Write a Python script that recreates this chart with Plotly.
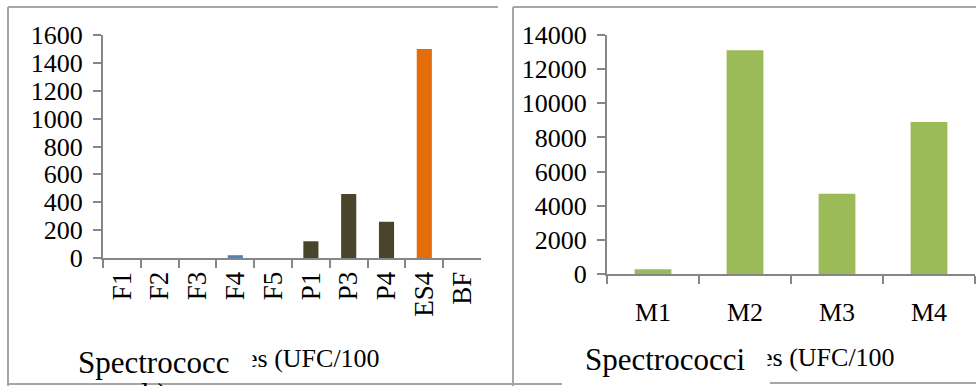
import plotly.graph_objects as go

# ---- data ----
left_categories = ["F1", "F2", "F3", "F4", "F5", "P1", "P3", "P4", "ES4", "BF"]
left_values = [0, 0, 0, 20, 0, 120, 460, 260, 1500, 0]
left_colors = ["#4F81BD", "#4F81BD", "#4F81BD", "#4F81BD", "#4A452A",
               "#4A452A", "#4A452A", "#4A452A", "#E46C0A", "#E46C0A"]
left_ticks = [0, 200, 400, 600, 800, 1000, 1200, 1400, 1600]

right_categories = ["M1", "M2", "M3", "M4"]
right_values = [280, 13100, 4700, 8900]
right_color = "#9BBB59"
right_ticks = [0, 2000, 4000, 6000, 8000, 10000, 12000, 14000]

W, H = 976, 386
FONT = "Liberation Serif, Times New Roman, serif"
AXC = "#868686"
BORDER = "#A6A6A6"


def px(x):
    return x / W


def py(y):
    return 1 - y / H


fig = go.Figure()
fig.add_trace(go.Bar(x=left_categories, y=left_values, marker=dict(color=left_colors, line=dict(width=0)),
                     xaxis="x", yaxis="y", width=0.4, showlegend=False))
fig.add_trace(go.Bar(x=right_categories, y=right_values, marker=dict(color=right_color, line=dict(width=0)),
                     xaxis="x2", yaxis="y2", width=0.4, showlegend=False))

axis_common = dict(showline=True, linecolor=AXC, linewidth=2, ticks="outside", ticklen=8,
                   tickcolor=AXC, tickwidth=2, showgrid=False, zeroline=False, automargin=False)


def tf(size):
    return dict(family=FONT, size=size, color="#000000")


fig.update_layout(
    template="none",
    width=W, height=H, margin=dict(l=0, r=0, t=0, b=0, pad=0), autosize=False,
    paper_bgcolor="white", plot_bgcolor="white",
    xaxis=dict(domain=[px(103), px(481)], anchor="y", type="category", tickson="boundaries",
               tickangle=-90, ticklabelstandoff=1, tickfont=tf(27), **axis_common),
    yaxis=dict(domain=[py(258), py(35)], anchor="x", range=[0, 1600], tickmode="array",
               tickvals=left_ticks, ticktext=[str(v) for v in left_ticks],
               ticklabelstandoff=5, tickfont=tf(26), **axis_common),
    xaxis2=dict(domain=[px(607), px(975)], anchor="y2", type="category", tickson="boundaries",
                tickangle=0, ticklabelstandoff=14, tickfont=tf(26), **axis_common),
    yaxis2=dict(domain=[py(274), py(35)], anchor="x2", range=[0, 14000], tickmode="array",
                tickvals=right_ticks, ticktext=[str(v) for v in right_ticks],
                ticklabelstandoff=5, tickfont=tf(26), **axis_common),
)

shapes = []


def line(x0, y0, x1, y1):
    shapes.append(dict(type="line", xref="paper", yref="paper", x0=px(x0), y0=py(y0), x1=px(x1), y1=py(y1),
                       line=dict(color=BORDER, width=2)))


# left panel border
line(8, 7, 8, 386)
line(8, 7, 498, 7)
line(8, 384, 490, 384)
# right panel border
line(513, 7, 513, 386)
line(513, 7, 976, 7)
line(490, 384, 562, 384)
line(770, 383, 976, 383)
fig.update_layout(shapes=shapes)

ann = []


def text(t, x, ymid, size):
    ann.append(dict(text=t, xref="paper", yref="paper", x=px(x), y=py(ymid), xanchor="left",
                    yanchor="middle", showarrow=False, font=tf(size), borderpad=0))


def mask(x, ymid, w, h):
    # white patch reproducing the clipped start of the second title fragment
    ann.append(dict(text=" ", xref="paper", yref="paper", x=px(x), y=py(ymid), xanchor="left",
                    yanchor="middle", showarrow=False, width=w, height=h, bgcolor="white",
                    font=tf(10), borderpad=0))


text("Spectrococc", 77, 362, 31)
text("es (UFC/100", 245, 358, 26)
text("ml )", 116, 394, 31)
text("Spectrococci", 584, 359, 31)
text("es (UFC/100", 760, 357, 26)
mask(243, 360, 8, 26)
mask(758, 359, 8, 26)
fig.update_layout(annotations=ann)

fig.write_html("out.html")
